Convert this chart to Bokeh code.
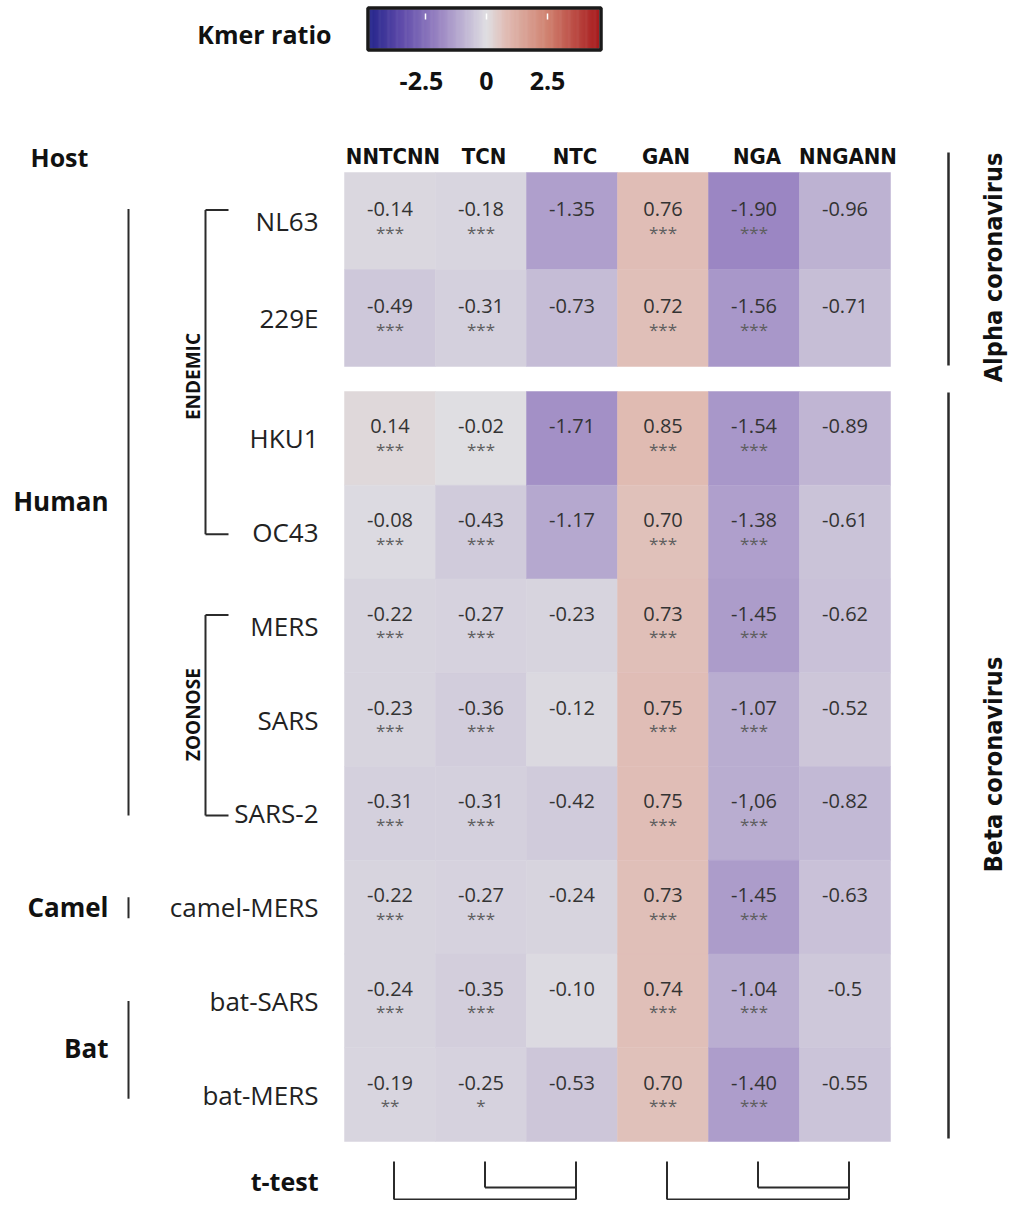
import numpy as np
from bokeh.plotting import figure
from bokeh.models import Range1d, LinearColorMapper, ColumnDataSource
from bokeh.transform import transform
from bokeh.core.properties import value
from bokeh.embed import file_html
from bokeh.resources import INLINE

# ---------------- data ----------------
strains = ["NL63", "229E", "HKU1", "OC43", "MERS", "SARS", "SARS-2",
           "camel-MERS", "bat-SARS", "bat-MERS"]
kmers = ["NNTCNN", "TCN", "NTC", "GAN", "NGA", "NNGANN"]

NNTCNN = ["-0.14", "-0.49", "0.14", "-0.08", "-0.22", "-0.23", "-0.31", "-0.22", "-0.24", "-0.19"]
TCN = ["-0.18", "-0.31", "-0.02", "-0.43", "-0.27", "-0.36", "-0.31", "-0.27", "-0.35", "-0.25"]
NTC = ["-1.35", "-0.73", "-1.71", "-1.17", "-0.23", "-0.12", "-0.42", "-0.24", "-0.10", "-0.53"]
GAN = ["0.76", "0.72", "0.85", "0.70", "0.73", "0.75", "0.75", "0.73", "0.74", "0.70"]
NGA = ["-1.90", "-1.56", "-1.54", "-1.38", "-1.45", "-1.07", "-1,06", "-1.45", "-1.04", "-1.40"]
NNGANN = ["-0.96", "-0.71", "-0.89", "-0.61", "-0.62", "-0.52", "-0.82", "-0.63", "-0.5", "-0.55"]

stars_NNTCNN = ["***"] * 9 + ["**"]
stars_TCN = ["***"] * 9 + ["*"]
stars_NTC = [""] * 10
stars_GAN = ["***"] * 10
stars_NGA = ["***"] * 10
stars_NNGANN = [""] * 10

columns = [NNTCNN, TCN, NTC, GAN, NGA, NNGANN]
stars = [stars_NNTCNN, stars_TCN, stars_NTC, stars_GAN, stars_NGA, stars_NNGANN]

hosts = ["Human", "Camel", "Bat"]
host_rows = [(0, 6), (7, 7), (8, 9)]
subgroups = ["ENDEMIC", "ZOONOSE"]
subgroup_rows = [(0, 3), (4, 6)]
genera = ["Alpha coronavirus", "Beta coronavirus"]
genus_rows = [(0, 1), (2, 9)]
ttest_groups = [(0, 1, 2), (3, 4, 5)]

cbar_ticks = [-2.5, 0, 2.5]
cbar_tick_labels = ["-2.5", "0", "2.5"]

# ---------------- colour map ----------------
anchor_v = [-4.8, -3.5, -1.9, 0.0, 0.8, 2.5, 4.6]
anchor_rgb = [(38, 38, 140), (95, 75, 170), (156, 135, 195), (223, 222, 226),
              (224, 188, 180), (208, 130, 112), (168, 28, 30)]
LOW, HIGH = -4.8, 4.6
vs = np.linspace(LOW, HIGH, 256)
pal = []
for v in vs:
    r = np.interp(v, anchor_v, [c[0] for c in anchor_rgb])
    g = np.interp(v, anchor_v, [c[1] for c in anchor_rgb])
    b = np.interp(v, anchor_v, [c[2] for c in anchor_rgb])
    pal.append("#%02x%02x%02x" % (int(round(r)), int(round(g)), int(round(b))))
mapper = LinearColorMapper(palette=pal, low=LOW, high=HIGH)

# ---------------- layout (page pixel space) ----------------
W, H = 1015, 1200
GRID_L, COL_W = 344, 91
B1_TOP, B1_H = 172, 97
B2_TOP, B2_H = 391, 93.75


def row_top(i):
    return B1_TOP + B1_H * i if i < 2 else B2_TOP + B2_H * (i - 2)


def row_h(i):
    return B1_H if i < 2 else B2_H


def row_c(i):
    return row_top(i) + row_h(i) / 2


def col_c(j):
    return GRID_L + COL_W * (j + 0.5)


FONT = value("Open Sans")
COND = value("DejaVu Sans Condensed")
DARK = "#2b2b2b"

p = figure(width=W, height=H, x_range=Range1d(0, W), y_range=Range1d(H, 0),
           output_backend="svg", toolbar_location=None, min_border=0)
p.axis.visible = False
p.grid.visible = False
p.outline_line_color = None
p.background_fill_color = "white"

# ---------------- heatmap cells ----------------
cx, cy, cw, ch, cv, lab, st = [], [], [], [], [], [], []
for j, col in enumerate(columns):
    for i, s in enumerate(col):
        cx.append(col_c(j))
        cy.append(row_c(i))
        cw.append(COL_W)
        ch.append(row_h(i))
        cv.append(float(s.replace(",", ".")))
        lab.append(s)
        st.append(stars[j][i])
src = ColumnDataSource(dict(x=cx, y=cy, w=cw, h=ch, v=cv, lab=lab, st=st,
                            ly=[y - 12 for y in cy], sy=[y + 11 for y in cy]))
p.rect(x="x", y="y", width="w", height="h", source=src,
       fill_color=transform("v", mapper), line_color=transform("v", mapper), line_width=0.5)
p.text(x="x", y="ly", text="lab", source=src, text_font=FONT, text_font_size="20px",
       text_align="center", text_baseline="middle", text_color="#333333")
p.text(x="x", y="sy", text="st", source=src, text_font=FONT, text_font_size="17px",
       text_align="center", text_baseline="middle", text_color="#5e5e5e")

# column headers
p.text(x=[col_c(j) + 3 for j in range(len(kmers))], y=[156] * len(kmers), text=kmers,
       text_font=COND, text_font_style="bold", text_font_size="22px",
       text_align="center", text_baseline="middle", text_color="#111111")

# strain labels
p.text(x=[318] * len(strains), y=[row_c(i) for i in range(len(strains))], text=strains,
       text_font=FONT, text_font_size="26px", text_align="right", text_baseline="middle",
       text_color="#222222")

# ---------------- host groups ----------------
p.text(x=[30], y=[156], text=["Host"], text_font=FONT, text_font_style="bold",
       text_font_size="25px", text_align="left", text_baseline="middle", text_color="#111111")
hx0, hx1, hy0, hy1 = [], [], [], []
hlab_y = []
for (a, b) in host_rows:
    top = row_c(a) - 12 if a != b else row_c(a) - 10
    bot = row_c(b) + 2 if a != b else row_c(b) + 11
    if b == 9:
        top, bot = row_c(a), row_c(b) + 4
    hx0.append(128); hx1.append(128); hy0.append(top); hy1.append(bot)
    hlab_y.append((row_c(a) + row_c(b)) / 2 if a != b else row_c(a))
hlab_y[0] = 500
p.segment(x0=hx0, y0=hy0, x1=hx1, y1=hy1, line_color=DARK, line_width=2)
p.text(x=[108] * len(hosts), y=hlab_y, text=hosts, text_font=FONT, text_font_style="bold",
       text_font_size="26px", text_align="right", text_baseline="middle", text_color="#111111")

# subgroup brackets
bx0, by0, bx1, by1 = [], [], [], []
for (a, b) in subgroup_rows:
    t, bt = row_c(a) - 11, row_c(b) + 2
    bx0 += [205, 205, 205]; bx1 += [205, 228, 228]
    by0 += [t, t, bt]; by1 += [bt, t, bt]
p.segment(x0=bx0, y0=by0, x1=bx1, y1=by1, line_color=DARK, line_width=2)
p.text(x=[192] * 2, y=[(row_c(a) + row_c(b)) / 2 + (0 if a == 0 else -5) for (a, b) in subgroup_rows],
       text=subgroups, angle=np.pi / 2, text_font=FONT, text_font_style="bold",
       text_font_size="19px", text_align="center", text_baseline="middle", text_color="#111111")

# genus lines on the right
gy0 = [152 if a == 0 else row_top(a) + 1 for (a, b) in genus_rows]
gy1 = [row_top(b) + row_h(b) - 1 if b == 1 else row_top(b) + row_h(b) - 3 for (a, b) in genus_rows]
p.segment(x0=[948, 948], y0=gy0, x1=[948, 948], y1=gy1, line_color=DARK, line_width=2.5)
p.text(x=[993, 993], y=[267, 764], text=genera, angle=np.pi / 2, text_font=COND,
       text_font_style="bold", text_font_size="25px", text_align="center",
       text_baseline="middle", text_color="#111111")

# ---------------- t-test brackets ----------------
p.text(x=[318], y=[1180], text=["t-test"], text_font=FONT, text_font_style="bold",
       text_font_size="25px", text_align="right", text_baseline="middle", text_color="#111111")
tx0, ty0, tx1, ty1 = [], [], [], []
for (a, b, c) in ttest_groups:
    xa, xb, xc = col_c(a) + 4, col_c(b) + 4, col_c(c) + 4
    tx0 += [xa, xb, xc, xb, xa]; tx1 += [xa, xb, xc, xc, xc]
    ty0 += [1161, 1161, 1161, 1187, 1199]; ty1 += [1199, 1187, 1199, 1187, 1199]
p.segment(x0=tx0, y0=ty0, x1=tx1, y1=ty1, line_color=DARK, line_width=2)

# ---------------- colour bar ----------------
CB_L, CB_R, CB_T, CB_B = 369, 599, 9, 48
CB_0, CB_PX = 486, 61 / 2.5


def cb_x(v):
    return CB_0 + v * CB_PX


edges = np.linspace(LOW, HIGH, 257)
mids = (edges[:-1] + edges[1:]) / 2
gsrc = ColumnDataSource(dict(l=[cb_x(e) for e in edges[:-1]], r=[cb_x(e) + 0.6 for e in edges[1:]],
                             v=mids))
p.quad(left="l", right="r", top=CB_T, bottom=CB_B, source=gsrc,
       fill_color=transform("v", mapper), line_color=None)
p.quad(left=[CB_L - 1.5], right=[CB_R + 1.5], top=[CB_T - 1.5], bottom=[CB_B + 1.5],
       fill_color=None, line_color="#1a1a1a", line_width=3.5)
p.segment(x0=[cb_x(t) for t in cbar_ticks], x1=[cb_x(t) for t in cbar_ticks],
          y0=[13] * 3, y1=[19] * 3, line_color="white", line_width=1.5)
p.text(x=[cb_x(t) - (4 if t < 0 else 0) for t in cbar_ticks], y=[80] * 3, text=cbar_tick_labels,
       text_font=FONT, text_font_style="bold", text_font_size="25px",
       text_align="center", text_baseline="middle", text_color="#111111")
p.text(x=[331], y=[33], text=["Kmer ratio"], text_font=FONT, text_font_style="bold",
       text_font_size="25px", text_align="right", text_baseline="middle", text_color="#111111")

open("out.html", "w").write(file_html(p, INLINE))
